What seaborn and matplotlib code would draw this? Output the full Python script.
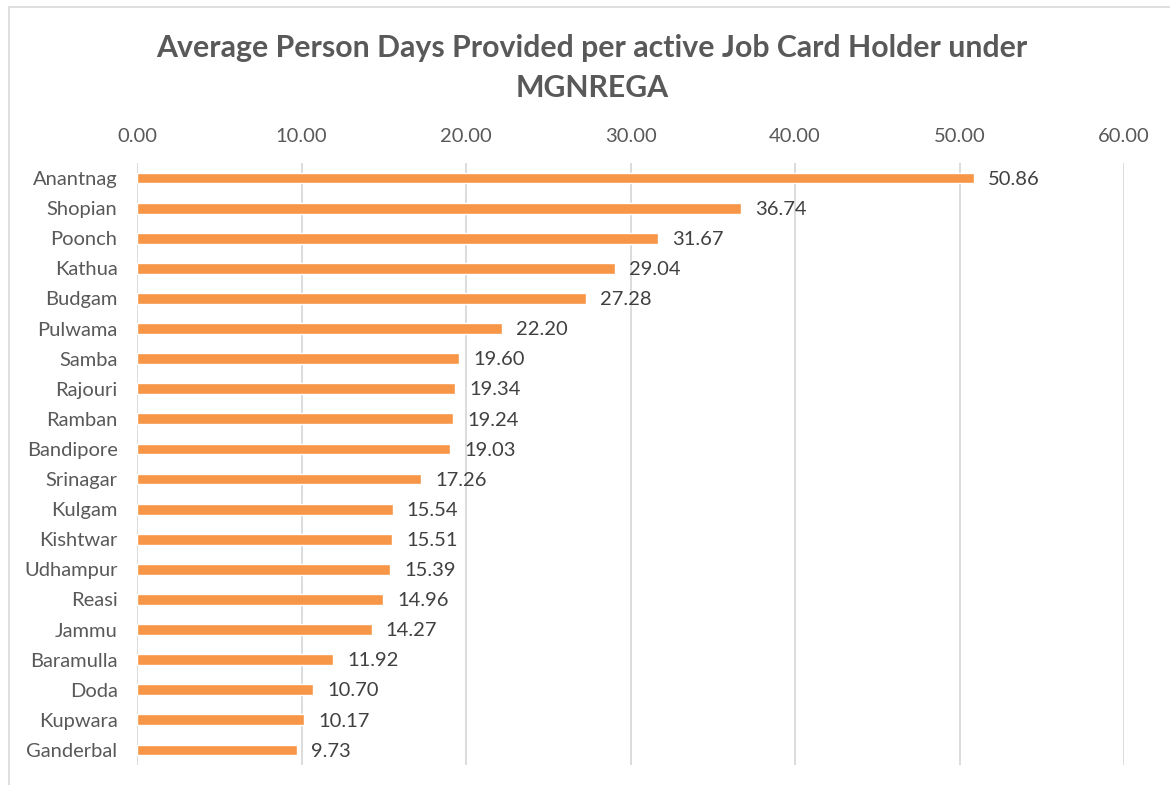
import matplotlib
matplotlib.use("Agg")
import matplotlib.pyplot as plt
import seaborn as sns
import pandas as pd
from matplotlib.patches import Rectangle

districts = ["Anantnag", "Shopian", "Poonch", "Kathua", "Budgam", "Pulwama", "Samba",
             "Rajouri", "Ramban", "Bandipore", "Srinagar", "Kulgam", "Kishtwar",
             "Udhampur", "Reasi", "Jammu", "Baramulla", "Doda", "Kupwara", "Ganderbal"]
values = [50.86, 36.74, 31.67, 29.04, 27.28, 22.20, 19.60, 19.34, 19.24, 19.03,
          17.26, 15.54, 15.51, 15.39, 14.96, 14.27, 11.92, 10.70, 10.17, 9.73]
xticks = [0, 10, 20, 30, 40, 50, 60]
title = "Average Person Days Provided per active Job Card Holder under\nMGNREGA"

sns.set_theme(style="white")
plt.rcParams['font.family'] = ['Lato', 'DejaVu Sans']

df = pd.DataFrame({"District": districts, "Value": values})
fig = plt.figure(figsize=(11.7, 7.85), dpi=100)
ax = fig.add_axes([137/1170, 1 - 765/785, (1124 - 137)/1170, (765 - 163)/785])

sns.barplot(data=df, x="Value", y="District", color="#F79646", saturation=1,
            width=0.36, ax=ax, orient="h")

ax.set_xlim(0, 60)
ax.set_xticks(xticks)
ax.set_xticklabels([f"{t:.2f}" for t in xticks])
ax.xaxis.tick_top()
ax.tick_params(axis='x', length=0, pad=13, labelsize=14.5, labelcolor="#595959")
ax.tick_params(axis='y', length=0, pad=14, labelsize=14.5, labelcolor="#595959")
ax.set_xlabel("")
ax.set_ylabel("")
for s in ax.spines.values():
    s.set_visible(False)
ax.grid(axis='x', color="#D9D9D9", linewidth=1.3)
ax.set_axisbelow(True)
ax.set_ylim(len(districts) - 0.5, -0.5)

for i, v in enumerate(values):
    ax.text(v + 0.85, i + 0.04, f"{v:.2f}", va="center", ha="left", fontsize=14.5, color="#404040")

fig.text(592/1170, 1 - 68/785, title, ha="center", va="center", fontsize=21.8,
         fontweight="bold", color="#595959", linespacing=1.55)

fig.patches.append(Rectangle((9/1170, -0.05), 1.2, 1 - 7/785 + 0.05, transform=fig.transFigure,
                             fill=False, edgecolor="#D9D9D9", linewidth=1.2))

fig.savefig("out.png", dpi=100)
